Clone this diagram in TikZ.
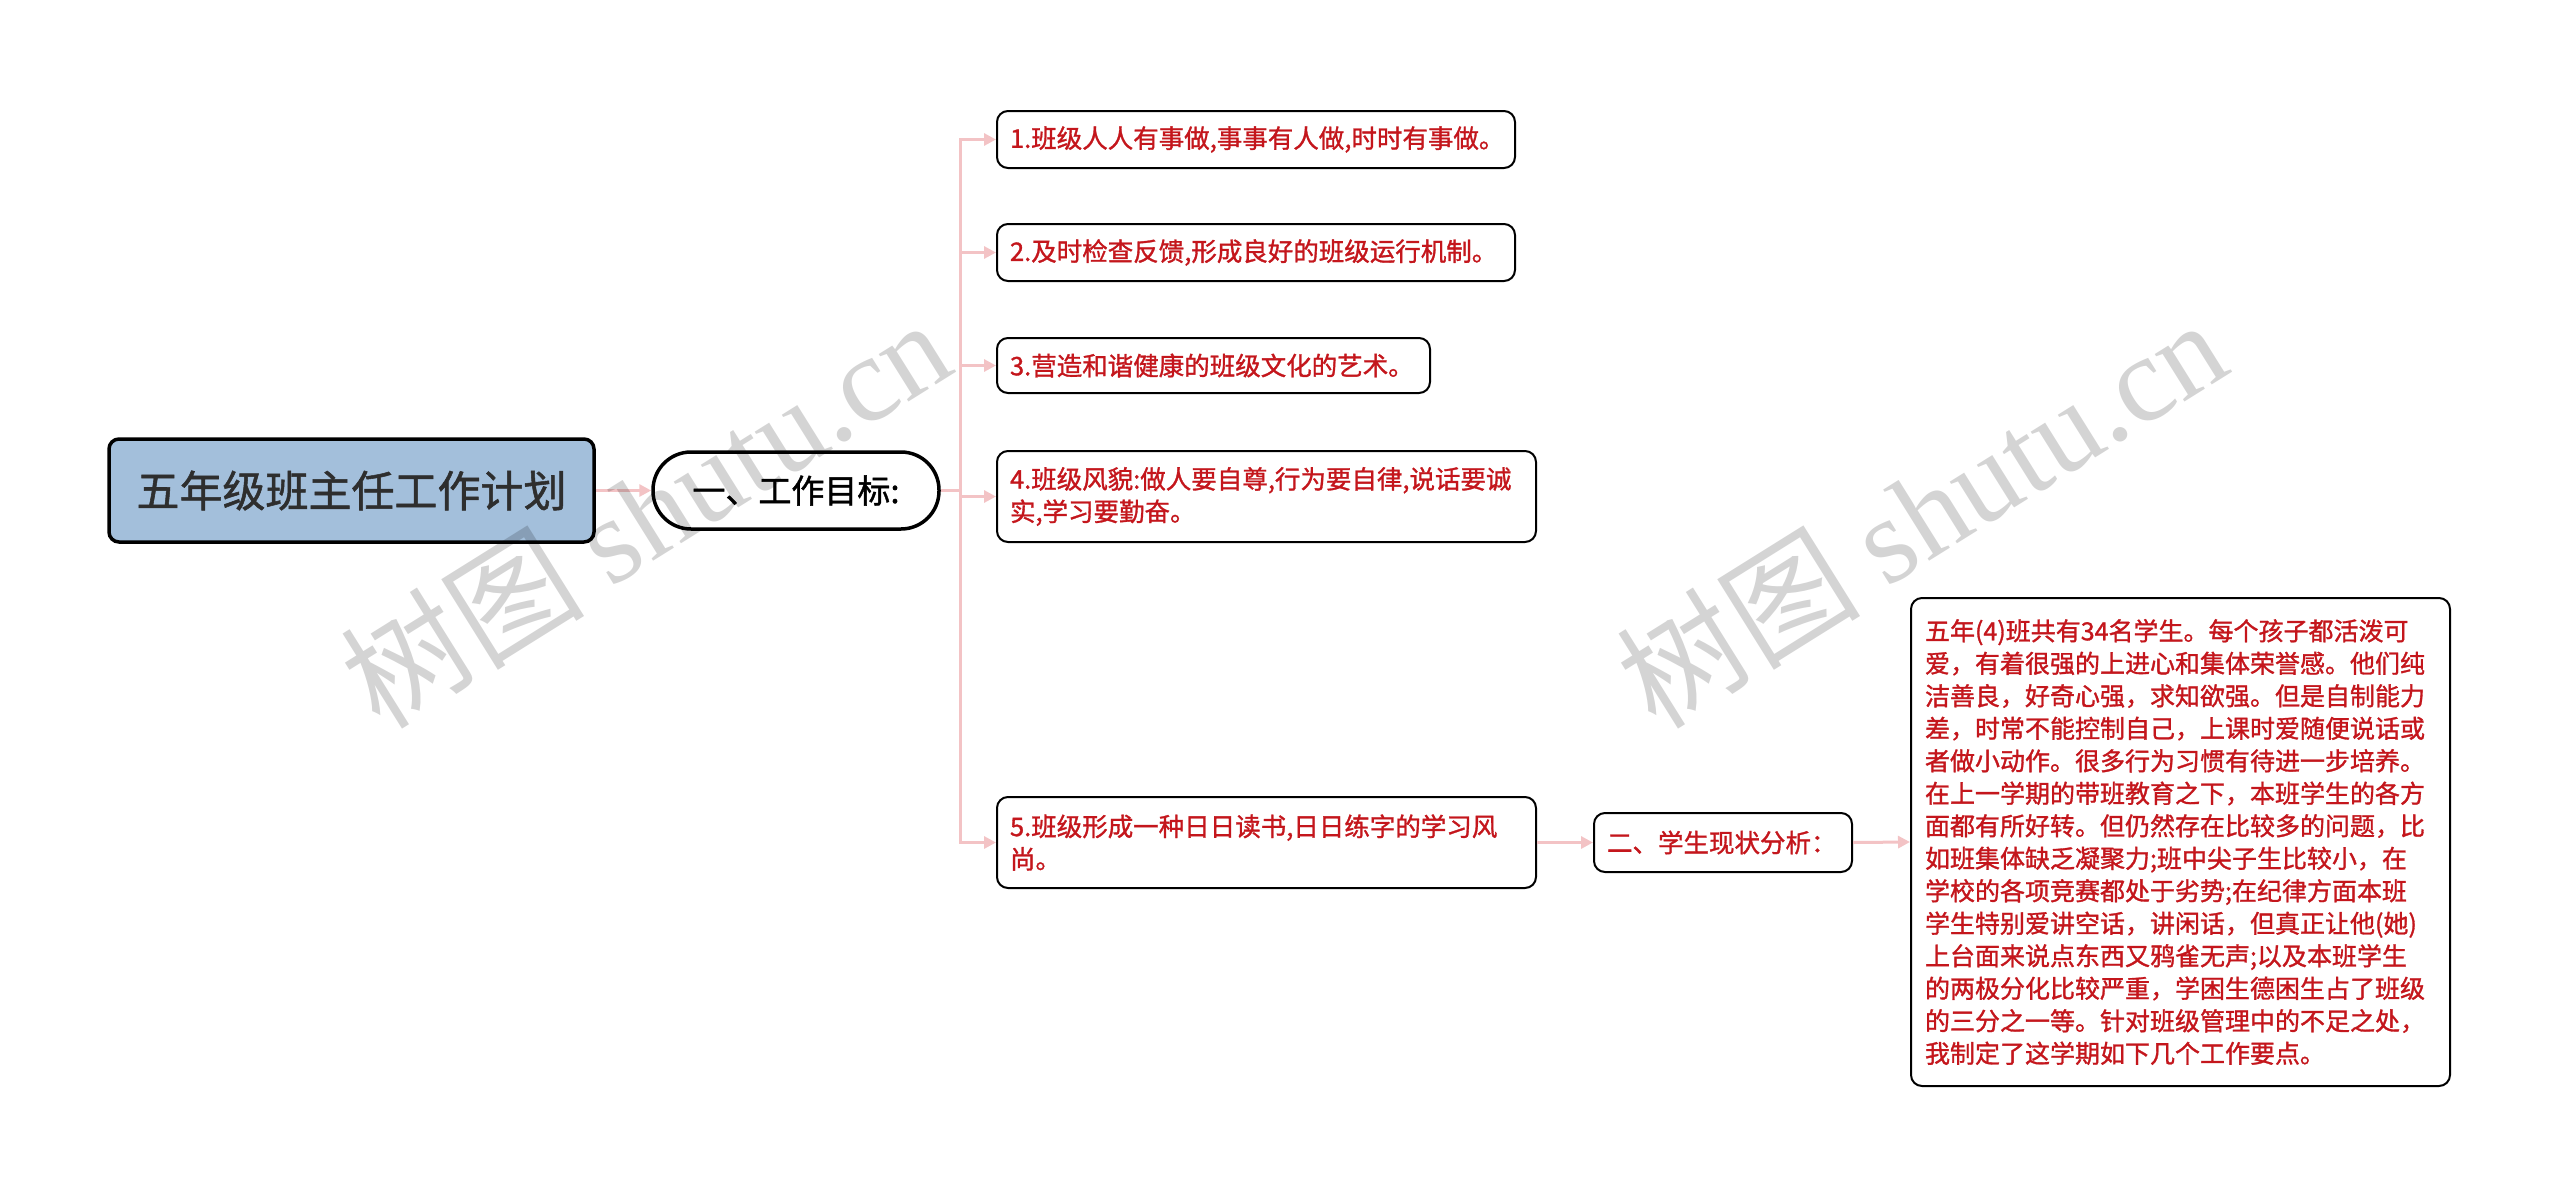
\documentclass[tikz,border=0pt]{standalone}
\usepackage{fontspec}
\setmainfont{Noto Sans CJK SC}[FakeBold=1.2]
\newfontfamily\wmcjk{Noto Sans CJK SC}
\newfontfamily\wmserif{Liberation Serif}
\usetikzlibrary{arrows.meta}
\definecolor{rootfill}{HTML}{A3BFDB}
\definecolor{connc}{HTML}{F3C3C5}
\definecolor{redtxt}{HTML}{C4161C}
\definecolor{roottxt}{HTML}{2E2E2E}
\begin{document}
\begin{tikzpicture}[x=1pt,y=-1pt,
  rootbox/.style={draw=black, line width=3.5pt, fill=rootfill, rounded corners=10pt,
    minimum width=485pt, minimum height=103pt, inner sep=0pt,
    font=\fontsize{43}{50}\selectfont, text=roottxt},
  pillbox/.style={draw=black, line width=3.5pt, fill=white, rounded corners=38pt,
    minimum width=286pt, minimum height=77pt, inner sep=0pt,
    font=\fontsize{33}{40}\selectfont, text=black},
  itembox/.style={draw=black, line width=2pt, fill=white, rounded corners=11pt,
    inner xsep=13pt, inner ysep=0pt, align=left, text=redtxt,
    font=\fontsize{25.5}{32.5}\selectfont, anchor=west},
  conn/.style={draw=connc, line width=3pt, -{Triangle[length=12pt,width=12pt]}},
  connline/.style={draw=connc, line width=3pt},
  wm/.style={text=black, text opacity=0.17, font=\fontsize{122}{130}\selectfont, rotate=32, inner sep=0pt}
]
\useasboundingbox (0,0) rectangle (2560,1197);

\node[rootbox] (root) at (351.5,490.5) {五年级班主任工作计划};
\node[pillbox] (pill) at (796,490.5) {一、工作目标:};

\node[itembox, text width=492pt, minimum height=57pt] (c1) at (996,139.5)
  {1.班级人人有事做,事事有人做,时时有事做。};
\node[itembox, text width=492pt, minimum height=57pt] (c2) at (996,252.5)
  {2.及时检查反馈,形成良好的班级运行机制。};
\node[itembox, text width=407pt, minimum height=55pt] (c3) at (996,365.5)
  {3.营造和谐健康的班级文化的艺术。};
\node[itembox, text width=513pt, minimum height=91pt] (c4) at (996,496.5)
  {4.班级风貌:做人要自尊,行为要自律,说话要诚\\实,学习要勤奋。};
\node[itembox, text width=513pt, minimum height=91pt] (c5) at (996,842.5)
  {5.班级形成一种日日读书,日日练字的学习风\\尚。};

\node[itembox, text width=232pt, minimum height=59pt] (s2) at (1593,842.5)
  {二、学生现状分析：};

\node[itembox, inner xsep=14pt, text width=511pt, minimum height=488pt,
      font=\fontsize{25}{32.5}\selectfont] (big) at (1910,842)
  {五年(4)班共有34名学生。每个孩子都活泼可\\
   爱，有着很强的上进心和集体荣誉感。他们纯\\
   洁善良，好奇心强，求知欲强。但是自制能力\\
   差，时常不能控制自己，上课时爱随便说话或\\
   者做小动作。很多行为习惯有待进一步培养。\\
   在上一学期的带班教育之下，本班学生的各方\\
   面都有所好转。但仍然存在比较多的问题，比\\
   如班集体缺乏凝聚力;班中尖子生比较小，在\\
   学校的各项竞赛都处于劣势;在纪律方面本班\\
   学生特别爱讲空话，讲闲话，但真正让他(她)\\
   上台面来说点东西又鸦雀无声;以及本班学生\\
   的两极分化比较严重，学困生德困生占了班级\\
   的三分之一等。针对班级管理中的不足之处，\\
   我制定了这学期如下几个工作要点。};

\draw[conn] (root.east) -- (pill.west);
\coordinate (bus) at (960,490.5);
\draw[connline] (pill.east) -- (bus);
\foreach \c in {c1,c2,c3,c4,c5} {\draw[conn] (bus) |- (\c.west);}
\draw[conn] (c5.east) -- (s2.west);
\draw[conn] (s2.east) -- (big.west);

\node[wm] (wm1) at (645,512) {{\wmcjk 树图} {\wmserif shutu.cn}};
\node[wm] (wm2) at (1921,512) {{\wmcjk 树图} {\wmserif shutu.cn}};
\end{tikzpicture}
\end{document}
